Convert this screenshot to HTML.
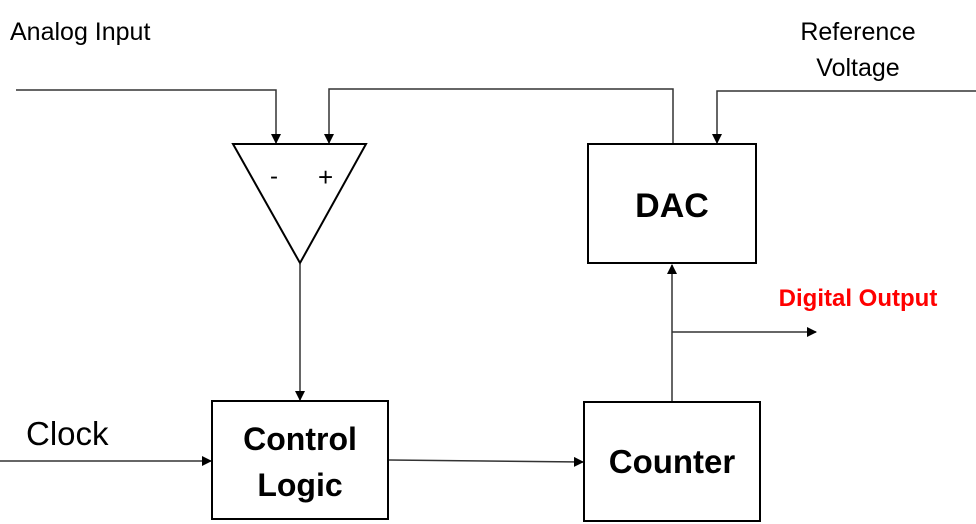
<!DOCTYPE html>
<html><head><meta charset="utf-8"><style>
html,body{margin:0;padding:0;background:#fff;}
svg{display:block;}
text{font-family:"Liberation Sans",sans-serif;}
</style></head><body>
<svg width="976" height="524" viewBox="0 0 976 524" xmlns="http://www.w3.org/2000/svg">
<defs>
<marker id="a" markerWidth="10" markerHeight="10" refX="9" refY="5" orient="auto" markerUnits="userSpaceOnUse">
<path d="M0,0 L10,5 L0,10 z" fill="#000"/></marker>
</defs>
<g stroke="#333" stroke-width="1.5" fill="none">
<polyline points="16,90 276,90 276,143" marker-end="url(#a)"/>
<polyline points="673,143 673,89 329,89 329,143" marker-end="url(#a)"/>
<polyline points="976,91 717,91 717,143" marker-end="url(#a)"/>
<line x1="300" y1="264" x2="300" y2="400" marker-end="url(#a)"/>
<line x1="672" y1="402" x2="672" y2="265" marker-end="url(#a)"/>
<line x1="672" y1="332" x2="816" y2="332" marker-end="url(#a)"/>
<line x1="0" y1="461" x2="211" y2="461" marker-end="url(#a)"/>
<line x1="389" y1="460" x2="583" y2="462" marker-end="url(#a)"/>
</g>
<g stroke="#000" stroke-width="2" fill="#fff">
<polygon points="233,144 366,144 300,263"/>
<rect x="588" y="144" width="168" height="119"/>
<rect x="212" y="401" width="176" height="118"/>
<rect x="584" y="402" width="176" height="119"/>
</g>
<text x="10" y="40" font-size="25">Analog Input</text>
<text x="858" y="40" font-size="25" text-anchor="middle">Reference</text>
<text x="858" y="76" font-size="25" text-anchor="middle">Voltage</text>
<text x="270" y="184" font-size="24">-</text>
<text x="318" y="186" font-size="26">+</text>
<text x="672" y="217" font-size="34" font-weight="bold" text-anchor="middle">DAC</text>
<text x="858" y="306" font-size="24" font-weight="bold" fill="#f00" text-anchor="middle">Digital Output</text>
<text x="26" y="445" font-size="33">Clock</text>
<text x="300" y="450" font-size="32" font-weight="bold" text-anchor="middle">Control</text>
<text x="300" y="496" font-size="32" font-weight="bold" text-anchor="middle">Logic</text>
<text x="672" y="473" font-size="33" font-weight="bold" text-anchor="middle">Counter</text>
</svg>
</body></html>
